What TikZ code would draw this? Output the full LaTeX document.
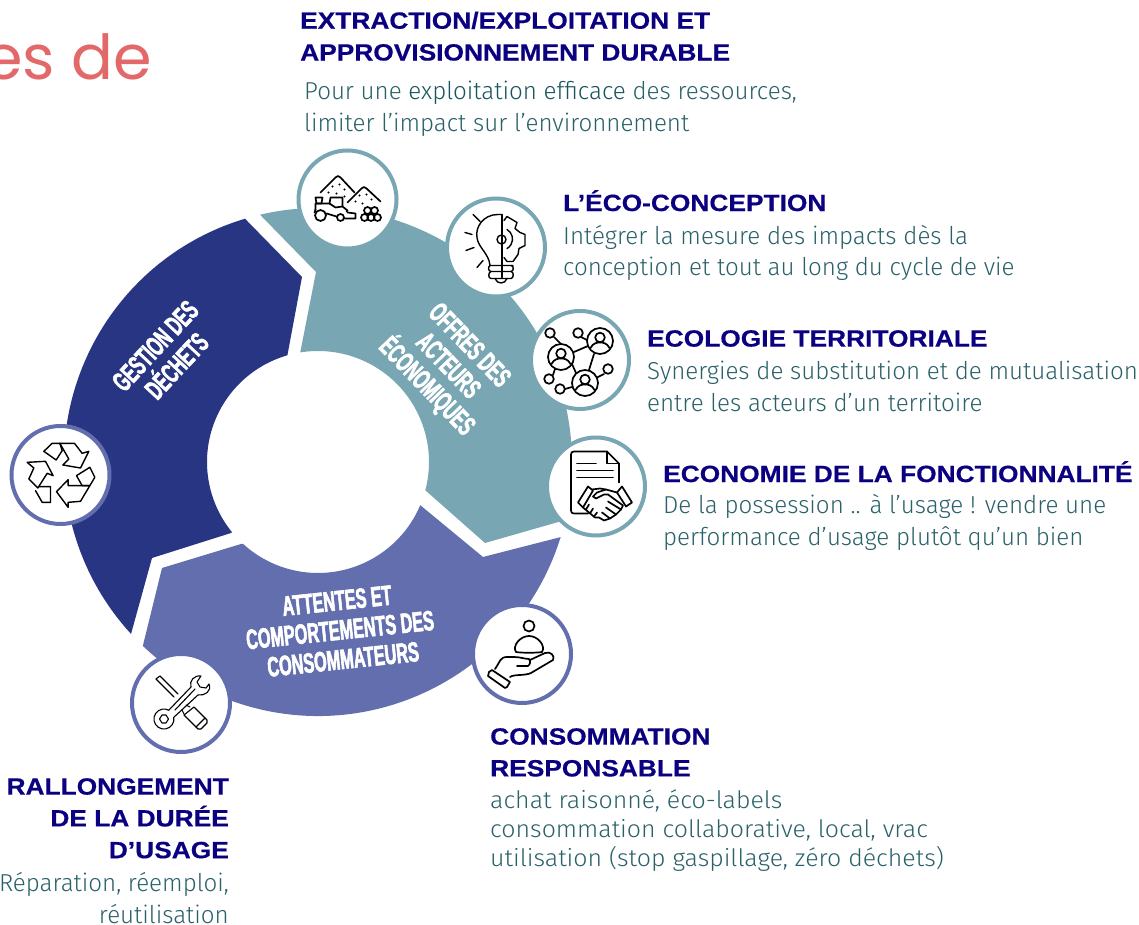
\documentclass[tikz,border=0pt]{standalone}
\usepackage{fontspec}
\usetikzlibrary{calc}
\setmainfont{Fira Sans Light}
\newfontfamily\headf[FakeStretch=1.12,FakeBold=0.5]{Liberation Sans Bold}
\newfontfamily\bodyb[FakeStretch=0.985]{Fira Sans Light}
\newfontfamily\bodyw[FakeStretch=1.037]{Fira Sans Light}
\newfontfamily\segf[FakeStretch=0.58,FakeBold=2]{Liberation Sans Bold}
\newfontfamily\titlef{Poppins}
\definecolor{navyseg}{HTML}{283583}
\definecolor{tealseg}{HTML}{78A6B2}
\definecolor{periseg}{HTML}{636EAE}
\definecolor{headc}{HTML}{0B0080}
\definecolor{bodyc}{HTML}{2A6169}
\definecolor{darkc}{HTML}{1A545C}
\definecolor{titlec}{HTML}{E2686A}
\tikzset{
  x=1pt,y=1pt,
  head/.style={anchor=north west,inner sep=0pt,align=left,text=headc,font=\headf\fontsize{23.5}{31.8}\selectfont},
  headr/.style={head,anchor=north east,align=right},
  body/.style={anchor=north west,inner sep=0pt,align=left,text=bodyc,font=\bodyb\fontsize{24.5}{31.6}\selectfont},
  bodyr/.style={body,anchor=north east,align=right},
  bodyw/.style={body,font=\bodyw\fontsize{24}{29}\selectfont},
  seglab/.style={inner sep=0pt,align=center,text=white,font=\segf\fontsize{28}{29.5}\selectfont},
  tealring/.style={circle,draw=tealseg,fill=white,line width=4pt,minimum size=98pt,inner sep=0pt},
  periring/.style={circle,draw=periseg,fill=white,line width=4pt,minimum size=98pt,inner sep=0pt},
  ico/.style={draw=black,line width=1.7pt,line join=round,line cap=round},
  icomid/.style={draw=black,line width=1.4pt,line join=round,line cap=round},
  icothin/.style={draw=black,line width=1.1pt,line join=round,line cap=round},
}
\begin{document}
\begin{tikzpicture}
\useasboundingbox (0,0) rectangle (1139,925);
\clip (0,0) rectangle (1139,925);
\coordinate (C) at (318,463);
\def\Ro{254}\def\Ri{111}
% segments
\fill[navyseg] ([shift={(C)}]106.7:\Ro) arc[start angle=106.7,end angle=222.6,radius=\Ro]
  -- (152,367) -- (231,392) -- ([shift={(C)}]219.2:\Ri) arc[start angle=219.2,end angle=106,radius=\Ri] -- (302,648) -- cycle;
\fill[tealseg] ([shift={(C)}]103.2:\Ro) arc[start angle=103.2,end angle=-13.2,radius=\Ro]
  -- (485,382) -- (425,435) -- ([shift={(C)}]-14.7:\Ri) arc[start angle=-14.7,end angle=99.2,radius=\Ri] -- (316,653) -- cycle;
\fill[periseg] ([shift={(C)}]-17.2:\Ro) arc[start angle=-17.2,end angle=-133.6,radius=\Ro]
  -- (162,357) -- (241,381) -- ([shift={(C)}]227.6:\Ri) arc[start angle=227.6,end angle=337.1,radius=\Ri] -- (483,368) -- cycle;
% title
\node[anchor=base east,inner sep=0pt,text=titlec,font=\titlef\fontsize{62}{62}\selectfont] (title) at (152,845) {es de};
% segment labels
\node[seglab,rotate=47] (segA) at (166,569) {GESTION DES\\DÉCHETS};
\node[seglab,rotate=-46] (segB) at (447,558) {OFFRES DES\\ACTEURS\\ÉCONOMIQUES};
\node[seglab,rotate=6] (segC) at (340,295) {ATTENTES ET\\COMPORTEMENTS DES\\CONSOMMATEURS};
% rings
\node[tealring] (r1) at (347.5,725.5) {};
\node[tealring] (r2) at (496,677.5) {};
\node[tealring] (r3) at (580,565) {};
\node[tealring] (r4) at (596,438.5) {};
\node[periring] (r5) at (60.5,450) {};
\node[periring] (r6) at (181,222) {};
\node[periring] (r7) at (522,271) {};
% icon 1: mine
\begin{scope}[shift={(r1.center)}]
\draw[ico] (-27,7) -- (-12,22) .. controls (-10,24) and (-9,24) .. (-7,22) -- (7,7);
\draw[ico] (0,-3) -- (14,11) .. controls (16,13) and (17,13) .. (19,11) -- (33,-2);
\foreach \p in {(-15,13),(-8,15),(-3,10),(-19,7),(-11,6),(-3,3),(12,4),(19,5),(24,0),(8,-2),(15,-4)}
  \fill \p circle (1.1);
\draw[ico] (-27,-16) circle (5.5);
\draw[ico] (-7,-18) circle (3.5);
\draw[ico] (-32,-10) -- (-32,-4) -- (-18,-4) -- (-17,2) -- (-5,2) -- (-5,-7) -- (0,-11) -- (-1,-12);
\draw[ico] (-32,-10) -- (-33,-13); \draw[ico] (-21,-14) -- (-11,-17) ;
\draw[ico] (-18,-4) -- (-12,-8) -- (-5,-7);
\draw[ico] (-32,2) -- (-25,2) -- (-26,-4) -- (-31,-4) -- cycle;
\draw[ico] (-3,-19) -- (8,-19) -- (8,-14) -- (0,-13);
\foreach \p in {(17,-18),(23.5,-18),(30,-18),(20,-11),(27,-11)} \draw[ico] \p circle (3.5);
\end{scope}
% icon 2: bulb and gear
\begin{scope}[shift={(r2.center)},xshift=-1pt]
\draw[icomid] (7,33) -- (7,-30);
\draw[icomid] (7,33) -- (3,33) .. controls (-12,33) and (-20,20) .. (-18,10) .. controls (-17,0) and (-6,-6) .. (-5,-18) -- (18,-18);
\draw[icomid] (-5,-18) .. controls (-7,-19) and (-7,-24) .. (-4,-24) -- (16,-24) .. controls (19,-24) and (19,-18) .. (16,-18);
\draw[icomid] (-4,-24) .. controls (-7,-25) and (-7,-31) .. (-4,-31) -- (16,-31) .. controls (19,-31) and (19,-24) .. (16,-24);
\draw[icomid] (0,-31) .. controls (2,-37) and (10,-37) .. (12,-31);
\draw[icomid] (6.5,8) circle (4.5);
\draw[icomid] (12,18) arc[start angle=60,end angle=-60,radius=11];
\draw[icomid] (9,27) -- (12,31) -- (22,25) -- (20,19) -- (25,15) -- (30,13) -- (30,2) -- (24,-1) -- (23,-7) -- (18,-14) -- (12,-14) -- (9,-10);
\draw[icomid] (-22,33) -- (-15,26); \draw[icomid] (-30,15) -- (-23,13); \draw[icomid] (-29,-3) -- (-21,0); \draw[icomid] (-18,-20) -- (-12,-13);
\end{scope}
% icon 3: network
\begin{scope}[shift={(r3.center)}]
\foreach \a/\b in {{(-26,23)}/{(-19,16)},{(1,23)}/{(9,19)},{(-6,8)}/{(8,14)},{(14,6)}/{(9,-10)},{(-8,-4)}/{(-4,-13)},{(24,-14)}/{(16,-18)},{(-27,-15)}/{(-25,-9)},{(-15,-29)}/{(-8,-27)}}
  \draw[ico] \a -- \b;
\foreach \cx/\cy in {-19/3,20/19,5/-23} {
  \begin{scope}[shift={(\cx,\cy)}]
  \draw[ico,fill=white] (0,0) circle (13);
  \draw[ico] (0,3.5) circle (4.8);
  \draw[ico] (-9.5,-7) .. controls (-7,-2) and (-3,-1.5) .. (0,-1.5) .. controls (3,-1.5) and (7,-2) .. (9.5,-7);
  \end{scope}}
\foreach \c in {(-30,27),(-2,27),(28,-9),(-31,-19),(-20,-29)} \draw[ico,fill=white] \c circle (4.8);
\end{scope}
% icon 4: contract and handshake
\begin{scope}[shift={(r4.center)}]
\draw[ico] (23,4) -- (23,23) -- (11,35) -- (-22,35) .. controls (-24,35) and (-25,34) .. (-25,32) -- (-25,-24) .. controls (-25,-26) and (-24,-27) .. (-22,-27) -- (-8,-27);
\draw[ico] (11,35) -- (11,23) -- (23,23);
\draw[ico] (-19,23) -- (0,23); \draw[ico] (-19,16) -- (17,16); \draw[ico] (-19,9) -- (17,9);
\draw[ico,fill=white] (-8,0) -- (-3,-4) -- (-13,-21) -- (-18,-16) -- cycle;
\draw[ico,fill=white] (26,0) -- (36,-16) -- (30,-20) -- (21,-6) -- cycle;
\draw[ico] (-4,-3) -- (4,-2) -- (10,-3) -- (21,-6);
\draw[ico] (10,-3) -- (1,-6) -- (-3,-10) -- (0,-12) -- (8,-8) -- (12,-8) -- (27,-19) -- (25,-23) -- (12,-15);
\draw[ico] (25,-23) -- (20,-28) -- (10,-21);
\draw[ico] (20,-28) -- (14,-32) -- (6,-26);
\draw[ico] (14,-32) -- (8,-34) -- (3,-31) -- (-1,-31) -- (-13,-21);
\draw[ico] (-7,-18) -- (-10,-23); \draw[ico] (-3,-22) -- (-6,-27); \draw[ico] (1,-26) -- (-2,-30);
\end{scope}
% icon 5: recycle
\begin{scope}[shift={(r5.center)},x=0.3333pt,y=0.3333pt]
\draw[icomid] (-2,95) -- (42,95) -- (65,65) -- (85,71) -- (60,21) -- (7,30) -- (25,48) -- cycle;
\draw[icomid] (-25,95) -- (-2,95) -- (5,73) -- (-13,45) -- (-50,71) -- cycle;
\draw[icomid] (-100,38) -- (-45,41) -- (-22,-2) -- (-40,5) -- (-68,-39) -- (-95,-12) -- (-80,21) -- cycle;
\draw[icomid] (-65,-35) -- (-30,-35) -- (-30,-82) -- (-55,-82) -- (-75,-47);
\draw[icomid] (-12,-50) -- (23,-14) -- (23,-32) -- (88,-32) -- (60,-79) -- (23,-82) -- (23,-97) -- cycle;
\draw[icomid] (48,-2) -- (88,23) -- (103,-7) -- (88,-32) -- (65,-32) -- cycle;
\end{scope}
% icon 6: tools
\begin{scope}[shift={(r6.center)}]
\draw[icothin] (-25,24) -- (-21,27) -- (-3,9);
\draw[icothin] (-25,24) -- (-7,6);
\draw[icothin] (13,-4) -- (26,-17) -- (26,-20) -- (20,-26) -- (17,-26) -- (3,-12) -- cycle;
\draw[icothin] (15,-24) -- (24,-15);
\draw[icothin] (5,-2) -- (9,-4); \draw[icothin] (1,-7) -- (3,-11);
\draw[icothin] (-12.2,-7.2) -- (10,16) .. controls (8,22) and (13,28) .. (20,27) -- (16,21) -- (19,16) -- (25,15) -- (28,19) .. controls (31,12) and (24,7) .. (17,8) -- (-7.2,-14.3) arc[start angle=10,end angle=-299,radius=10];
\draw[icothin] (-21.5,-16) -- (-19,-12) -- (-15,-12) -- (-12.5,-16) -- (-15,-20) -- (-19,-20) -- cycle;
\draw[icothin] (-6,-7) -- (14,14);
\end{scope}
% icon 7: hand
\begin{scope}[shift={(r7.center)}]
\draw[ico] (7,28) circle (5.5);
\draw[ico] (-6,2) .. controls (-10,8) and (-2,18) .. (7,18) .. controls (16,18) and (24,8) .. (20,2) .. controls (15,1) and (-1,1) .. (-6,2) -- cycle;
\draw[ico] (-27,-15) .. controls (-22,-8) and (-22,-3) .. (-15,-3) -- (-8,-3) .. controls (-2,-3) and (3,-5) .. (7,-5) .. controls (9,-7) and (8,-11) .. (6,-12) -- (-5,-12);
\draw[ico] (8,-6) -- (23,1) .. controls (29,3) and (33,-2) .. (31,-6) -- (9,-19) .. controls (3,-22) and (-8,-20) .. (-12,-23);
\draw[ico] (-33,-18) -- (-30,-16) -- (-12,-28) -- (-15,-33) -- (-17,-34) -- (-34,-22) -- cycle;
\end{scope}
% text blocks
\node[head] (h1) at (300,913.5) {EXTRACTION/EXPLOITATION ET\\APPROVISIONNEMENT DURABLE};
\node[body] (b1) at (304,844) {Pour une {\color{darkc}exploitation efficace} des ressources,\\limiter l’impact sur l’environnement};
\node[head] (h2) at (563,735) {L’ÉCO-CONCEPTION};
\node[body] (b2) at (563,700) {Intégrer la mesure des impacts dès la\\conception et tout au long du cycle de vie};
\node[head] (h3) at (647,595) {ECOLOGIE TERRITORIALE};
\node[body] (b3) at (647,564) {Synergies de substitution et de mutualisation\\entre les acteurs d’un territoire};
\node[head] (h4) at (663,464) {ECONOMIE DE LA FONCTIONNALITÉ};
\node[body] (b4) at (663,430.5) {De la possession .. à l’usage ! vendre une\\performance d’usage plutôt qu’un bien};
\node[head] (h5) at (490,197) {CONSOMMATION\\RESPONSABLE};
\node[bodyw] (b5) at (490,135) {achat raisonné, éco-labels\\consommation collaborative, local, vrac\\utilisation (stop gaspillage, zéro déchets)};
\node[headr] (h6) at (229,147) {RALLONGEMENT\\DE LA DURÉE\\D’USAGE};
\node[bodyr] (b6) at (229,52.5) {Réparation, réemploi,\\réutilisation};
\end{tikzpicture}
\end{document}
